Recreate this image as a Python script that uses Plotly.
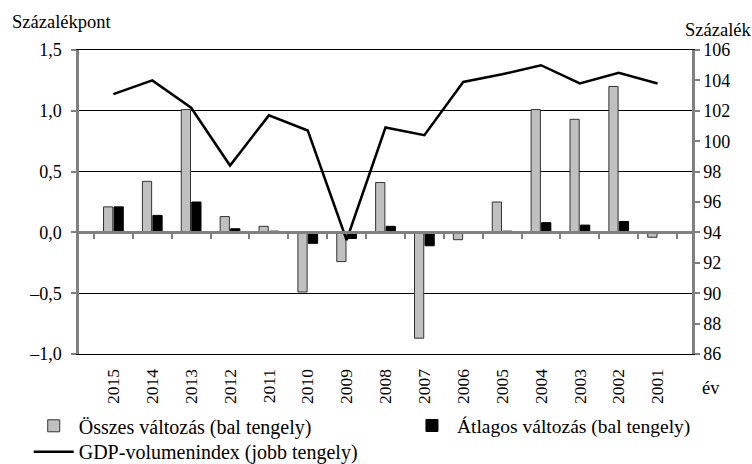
import plotly.graph_objects as go

years = ["2015", "2014", "2013", "2012", "2011", "2010", "2009", "2008",
         "2007", "2006", "2005", "2004", "2003", "2002", "2001"]
osszes = [0.21, 0.42, 1.01, 0.13, 0.05, -0.49, -0.24, 0.41,
          -0.87, -0.06, 0.25, 1.01, 0.93, 1.20, -0.04]
atlagos = [0.21, 0.14, 0.25, 0.03, 0.01, -0.09, -0.05, 0.05,
           -0.11, 0.0, 0.01, 0.08, 0.06, 0.09, 0.0]
gdp = [103.1, 104.0, 102.2, 98.4, 101.7, 100.7, 93.5, 100.9,
       100.4, 103.9, 104.4, 105.0, 103.8, 104.5, 103.8]

left_vals = [-1.0, -0.5, 0.0, 0.5, 1.0, 1.5]
left_text = ["\u20131,0", "\u20130,5", "0,0", "0,5", "1,0", "1,5"]
right_vals = [86, 88, 90, 92, 94, 96, 98, 100, 102, 104, 106]

FONT = "Liberation Serif, Times New Roman, serif"
GREY = "#808080"

fig = go.Figure()
fig.add_trace(go.Bar(x=years, y=osszes, name="Összes változás (bal tengely)",
                     marker=dict(color="#c0c0c0", line=dict(color="#333333", width=1)),
                     legend="legend"))
fig.add_trace(go.Bar(x=years, y=atlagos, name="Átlagos változás (bal tengely)",
                     marker=dict(color="#000000", line=dict(color="#000000", width=1)),
                     legend="legend3"))
fig.add_trace(go.Scatter(x=years, y=gdp, name="GDP-volumenindex (jobb tengely)",
                         mode="lines", line=dict(color="#000000", width=2.5),
                         yaxis="y2", legend="legend2"))
# helper trace so the zero-level category axis renders
fig.add_trace(go.Scatter(x=years, y=[None] * len(years), xaxis="x3",
                         showlegend=False, hoverinfo="skip"))

legend_common = dict(orientation="h", xanchor="left", yanchor="top",
                     xref="paper", yref="paper",
                     font=dict(family=FONT, size=20), tracegroupgap=0,
                     itemwidth=40, traceorder="normal", bgcolor="rgba(0,0,0,0)")

fig.update_layout(
    width=752, height=464,
    margin=dict(l=79, r=60, t=50, b=110, autoexpand=False),
    paper_bgcolor="white", plot_bgcolor="white",
    font=dict(family=FONT, size=18, color="#000000"),
    barmode="group", bargap=0.46, bargroupgap=0.12,
    showlegend=True,
    legend=dict(x=-0.082, y=-0.172, **legend_common),
    legend3=dict(x=0.535, y=-0.172, font=dict(family=FONT, size=19.5),
                 **{k: v for k, v in legend_common.items() if k != "font"}),
    legend2=dict(x=-0.082, y=-0.257, **legend_common),
    xaxis=dict(type="category", showgrid=False, tickangle=-90, automargin=False,
               showline=True, linecolor="#000000", linewidth=1, mirror=True,
               ticks="", tickfont=dict(size=17.5), ticklabelstandoff=7),
    xaxis3=dict(type="category", overlaying="x", anchor="free", position=0.4,
                matches="x", showline=True, linecolor=GREY, linewidth=2.5,
                ticks="outside", tickson="boundaries", ticklen=5, tickwidth=2,
                tickcolor=GREY, showticklabels=False, showgrid=False, automargin=False),
    yaxis=dict(range=[-1.0, 1.5], tickvals=left_vals, ticktext=left_text,
               showgrid=True, gridcolor="#000000", gridwidth=1, zeroline=False,
               showline=True, linecolor=GREY, linewidth=2.5, automargin=False,
               ticks="outside", ticklen=5, tickwidth=2, tickcolor=GREY,
               tickfont=dict(size=18), ticklabelstandoff=6),
    yaxis2=dict(range=[86, 106], tickvals=right_vals, overlaying="y", side="right",
                showgrid=False, zeroline=False, automargin=False,
                showline=True, linecolor=GREY, linewidth=2.5,
                ticks="outside", ticklen=5, tickwidth=2, tickcolor=GREY,
                tickfont=dict(size=18)),
    annotations=[
        dict(text="Százalékpont", xref="paper", yref="paper", x=-0.113, y=1.092,
             xanchor="left", yanchor="middle", showarrow=False, font=dict(size=18.5)),
        dict(text="Százalék", xref="paper", yref="paper", x=1.1, y=1.066,
             xanchor="right", yanchor="middle", showarrow=False, font=dict(size=18.5)),
        dict(text="év", xref="paper", yref="paper", x=1.031, y=-0.112,
             xanchor="center", yanchor="middle", showarrow=False, font=dict(size=18.5)),
    ],
)

fig.write_html("out.html", config={"displayModeBar": False},
               post_script="document.body.style.margin='0';")
